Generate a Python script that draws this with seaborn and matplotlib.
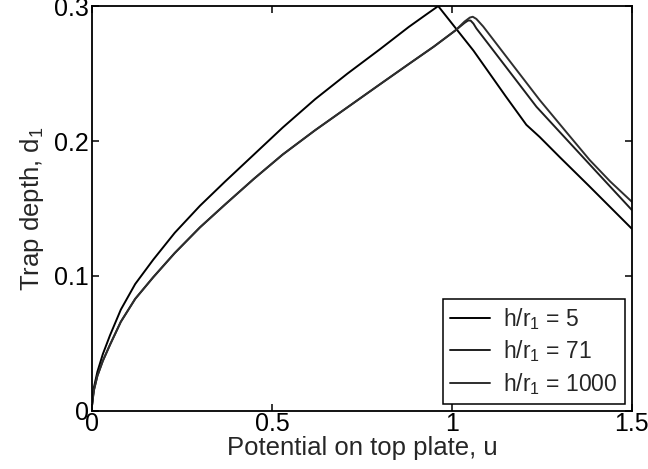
import matplotlib
matplotlib.use("Agg")
import matplotlib.pyplot as plt
import seaborn as sns
import pandas as pd

# Trap depth d1 versus top-plate potential u for three electrode spacings
u_h5 = [0.0, 0.005, 0.015, 0.03, 0.05, 0.08, 0.12, 0.17, 0.23, 0.30, 0.37, 0.45,
        0.53, 0.62, 0.71, 0.80, 0.88, 0.93, 0.962, 1.06, 1.15, 1.207, 1.244,
        1.30, 1.38, 1.44, 1.50]
d_h5 = [0.004, 0.017, 0.029, 0.042, 0.056, 0.075, 0.094, 0.112, 0.132, 0.152, 0.170, 0.190,
        0.210, 0.231, 0.250, 0.268, 0.2845, 0.294, 0.300, 0.267, 0.233, 0.212, 0.203,
        0.188, 0.167, 0.151, 0.135]

u_h71 = [0.0, 0.005, 0.015, 0.03, 0.05, 0.08, 0.12, 0.17, 0.23, 0.30, 0.37, 0.45,
         0.53, 0.62, 0.71, 0.80, 0.88, 0.95, 1.01, 1.035, 1.045, 1.052, 1.06, 1.068,
         1.10, 1.15, 1.20, 1.235, 1.30, 1.40, 1.50]
d_h71 = [0.004, 0.015, 0.026, 0.037, 0.049, 0.066, 0.083, 0.099, 0.117, 0.136, 0.153, 0.172,
         0.190, 0.208, 0.225, 0.242, 0.257, 0.270, 0.282, 0.2875, 0.2893, 0.2893, 0.287, 0.2835,
         0.2724, 0.255, 0.2376, 0.2254, 0.2066, 0.1777, 0.1489]

u_h1000 = [0.0, 0.005, 0.015, 0.03, 0.05, 0.08, 0.12, 0.17, 0.23, 0.30, 0.37, 0.45,
           0.53, 0.62, 0.71, 0.80, 0.88, 0.95, 1.01, 1.035, 1.05, 1.058, 1.068, 1.087,
           1.15, 1.244, 1.32, 1.383, 1.44, 1.50]
d_h1000 = [0.004, 0.015, 0.026, 0.037, 0.049, 0.066, 0.083, 0.099, 0.117, 0.136, 0.153, 0.172,
           0.190, 0.208, 0.225, 0.242, 0.257, 0.270, 0.282, 0.2885, 0.2915, 0.2921, 0.2905, 0.2849,
           0.263, 0.2304, 0.206, 0.1859, 0.170, 0.155]

series_labels = [r"h/r$_1$ = 5", r"h/r$_1$ = 71", r"h/r$_1$ = 1000"]
x_ticks = [0, 0.5, 1, 1.5]
x_tick_labels = ["0", "0.5", "1", "1.5"]
y_ticks = [0, 0.1, 0.2, 0.3]
y_tick_labels = ["0", "0.1", "0.2", "0.3"]

frames = []
for lab, uu, dd in zip(series_labels, [u_h5, u_h71, u_h1000], [d_h5, d_h71, d_h1000]):
    frames.append(pd.DataFrame({"u": uu, "d": dd, "case": lab}))
df = pd.concat(frames, ignore_index=True)

sns.set_style("ticks")
plt.rcParams["font.family"] = ["Liberation Sans", "DejaVu Sans"]
plt.rcParams["mathtext.fontset"] = "custom"
plt.rcParams["mathtext.rm"] = "Liberation Sans"
plt.rcParams["mathtext.it"] = "Liberation Sans"
plt.rcParams["mathtext.default"] = "regular"

fig = plt.figure(figsize=(6.48, 4.69), dpi=100)
ax = fig.add_axes([0.142, 0.124, 0.833, 0.863])

palette = {series_labels[0]: "#000000", series_labels[1]: "#1e1e1e", series_labels[2]: "#2e2e2e"}
sns.lineplot(data=df, x="u", y="d", hue="case", hue_order=series_labels, palette=palette,
             sort=False, estimator=None, linewidth=1.4, ax=ax)

ax.set_xlim(0, 1.5)
ax.set_ylim(0, 0.3)
ax.set_xticks(x_ticks)
ax.set_xticklabels(x_tick_labels)
ax.set_yticks(y_ticks)
ax.set_yticklabels(y_tick_labels)
ax.tick_params(direction="in", length=5, width=1.1, top=True, right=True,
               labelsize=18, colors="black", pad=2)
ax.tick_params(axis="x", pad=1)
for side in ax.spines.values():
    side.set_visible(True)
    side.set_linewidth(1.3)
    side.set_color("black")

ax.set_xlabel("Potential on top plate, u", fontsize=18.5, labelpad=0)
ax.set_ylabel(r"Trap depth, d$_1$", fontsize=18.5, labelpad=6)

leg = ax.legend(loc="lower right", fontsize=16.5, frameon=True, fancybox=False,
                handlelength=1.75, handletextpad=0.6, labelspacing=0.3,
                borderpad=0.3, borderaxespad=0.3)
leg.get_frame().set_edgecolor("black")
leg.get_frame().set_linewidth(1.1)
leg.get_frame().set_alpha(1)

fig.savefig("out.png", dpi=100)
